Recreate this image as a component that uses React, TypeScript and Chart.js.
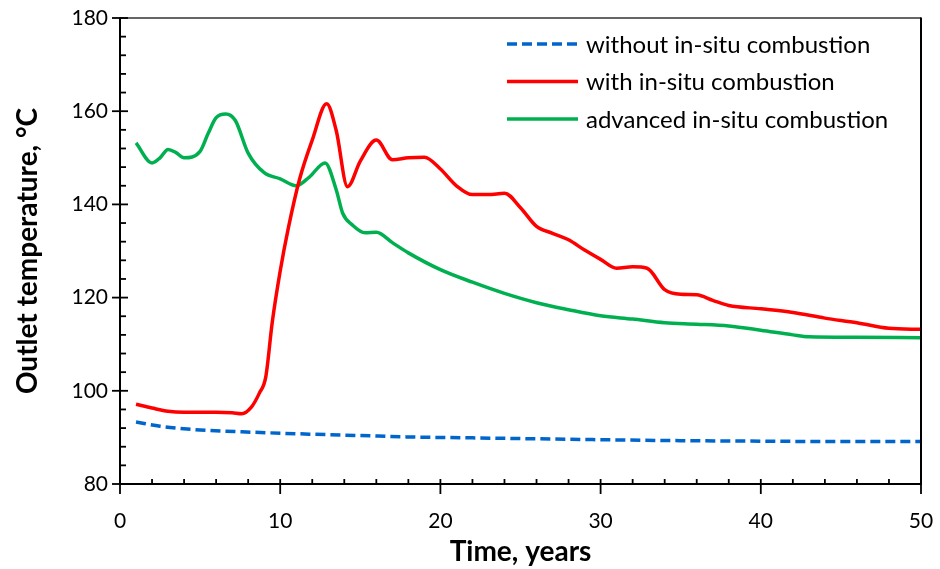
import React, { useEffect, useRef } from "react";
import { Chart, registerables } from "chart.js";

Chart.register(...registerables);

// ---- data ----
const withoutT = [1, 2.5, 3.5, 5, 7.6, 11.8, 15, 18, 22, 26, 30, 35, 40, 45, 50];
const withoutV = [93.3, 92.4, 92.0, 91.6, 91.2, 90.7, 90.4, 90.1, 89.9, 89.7, 89.5, 89.3, 89.2, 89.1, 89.1];

const withT = [1, 2, 3, 4, 5, 6, 7, 7.6, 8.2, 8.7, 9.1, 9.5, 10, 10.5, 11.2, 12, 12.9, 13.5, 14.2, 15, 16, 17, 18, 19, 20, 21, 22, 23, 24, 25, 26, 27, 28, 29, 30, 31, 32, 32.9, 34, 35, 36, 37, 38, 40, 42, 44, 46, 48, 50];
const withV = [97.1, 96.3, 95.6, 95.4, 95.4, 95.4, 95.3, 95.1, 96.5, 99.5, 103.0, 114.6, 125.7, 134.8, 145.3, 153.8, 161.6, 155.8, 143.8, 149.3, 153.8, 149.6, 150.0, 150.1, 147.6, 144.0, 142.1, 142.1, 142.4, 139.3, 135.3, 133.8, 132.4, 130.2, 128.2, 126.3, 126.6, 126.3, 121.7, 120.7, 120.6, 119.4, 118.3, 117.6, 116.8, 115.6, 114.6, 113.4, 113.2];

const advT = [1, 2, 2.5, 3, 3.5, 4, 5, 5.5, 6, 6.6, 7.2, 8, 9, 10, 11, 11.8, 12.8, 13.5, 13.9, 14.5, 15.3, 16, 17, 18, 20, 22, 24, 26, 28, 30, 32, 34, 36, 38, 40, 42, 43, 46, 50];
const advV = [153.2, 148.9, 150.0, 151.8, 151.1, 150.0, 151.4, 155.2, 158.6, 159.4, 158.0, 151.0, 146.8, 145.5, 144.0, 145.8, 148.9, 143.1, 138.1, 135.6, 133.9, 134.0, 131.8, 129.6, 126.0, 123.3, 120.9, 118.9, 117.4, 116.1, 115.4, 114.6, 114.3, 113.9, 113.0, 112.0, 111.6, 111.5, 111.4];

const seriesLabels = ["without in-situ combustion", "with in-situ combustion", "advanced in-situ combustion"];
const seriesColors = ["#0066CC", "#FF0000", "#00B050"];

const xTitle = "Time, years";
const yTitle = "Outlet temperature, \u00B0C";

const FONT = "Lato, 'Liberation Sans', sans-serif";

const framePlugin = {
  id: "frame",
  afterDatasetsDraw(chart: any) {
    const { ctx, chartArea } = chart;
    const { left, right, top, bottom } = chartArea;
    const xs = chart.scales.x;
    const ys = chart.scales.y;
    ctx.save();
    ctx.lineCap = "butt";
    ctx.lineWidth = 1.3;
    ctx.strokeStyle = "#333";
    ctx.beginPath();
    ctx.moveTo(left, top);
    ctx.lineTo(right, top);
    ctx.stroke();
    ctx.strokeStyle = "#000";
    ctx.lineWidth = 2;
    ctx.beginPath();
    ctx.moveTo(left, top - 0.6);
    ctx.lineTo(left, bottom);
    ctx.lineTo(right, bottom);
    ctx.moveTo(right, top - 0.6);
    ctx.lineTo(right, bottom + 1);
    ctx.stroke();
    ctx.lineWidth = 1.8;
    for (let v = 0; v <= 50; v += 2) {
      const px = xs.getPixelForValue(v);
      ctx.beginPath();
      if (v % 10 === 0) {
        ctx.moveTo(px, bottom + 10);
        ctx.lineTo(px, bottom - 5);
      } else {
        ctx.moveTo(px, bottom);
        ctx.lineTo(px, bottom - 5);
      }
      ctx.stroke();
    }
    for (let v = 80; v <= 180; v += 4) {
      const py = ys.getPixelForValue(v);
      ctx.beginPath();
      if (v % 20 === 0) {
        ctx.moveTo(left - 8, py);
        ctx.lineTo(left + 8, py);
      } else {
        ctx.moveTo(left, py);
        ctx.lineTo(left + 6, py);
      }
      ctx.stroke();
    }
    ctx.restore();
  },
  afterDraw(chart: any) {
    const { ctx } = chart;
    const ds = chart.data.datasets;
    const lx0 = 507;
    const lx1 = 578;
    const tx = 586;
    const ys = [44, 81.5, 119];
    ctx.save();
    ctx.font = `24px ${FONT}`;
    ctx.textBaseline = "middle";
    ctx.fillStyle = "#000";
    ds.forEach((d: any, i: number) => {
      ctx.strokeStyle = d.borderColor;
      ctx.lineWidth = 3.5;
      ctx.setLineDash(d.borderDash || []);
      ctx.beginPath();
      ctx.moveTo(lx0, ys[i]);
      ctx.lineTo(lx1, ys[i]);
      ctx.stroke();
      ctx.setLineDash([]);
      ctx.fillText(d.label, tx, ys[i] + 1);
    });
    ctx.restore();
  },
};

export default function App() {
  const ref = useRef<HTMLCanvasElement | null>(null);
  useEffect(() => {
    document.body.style.margin = "0";
    const canvas = ref.current!;
    const mk = (t: number[], v: number[]) => t.map((x, i) => ({ x, y: v[i] }));
    const chart = new Chart(canvas, {
      type: "line",
      data: {
        datasets: [
          { label: seriesLabels[0], data: mk(withoutT, withoutV), borderColor: seriesColors[0], borderWidth: 3.5, borderDash: [10, 5], pointRadius: 0, cubicInterpolationMode: "monotone", fill: false },
          { label: seriesLabels[1], data: mk(withT, withV), borderColor: seriesColors[1], borderWidth: 3.5, pointRadius: 0, cubicInterpolationMode: "monotone", fill: false },
          { label: seriesLabels[2], data: mk(advT, advV), borderColor: seriesColors[2], borderWidth: 3.5, pointRadius: 0, cubicInterpolationMode: "monotone", fill: false },
        ],
      } as any,
      options: {
        animation: false,
        responsive: false,
        devicePixelRatio: 1,
        layout: { padding: { top: 18, right: 19, left: 0, bottom: 0 } },
        plugins: { legend: { display: false }, tooltip: { enabled: false } },
        scales: {
          x: {
            type: "linear",
            min: 0,
            max: 50,
            grid: { display: false, drawTicks: false },
            border: { display: false },
            ticks: { stepSize: 10, color: "#000", font: { family: FONT, size: 21 }, padding: 25, maxRotation: 0 },
            title: { display: true, text: xTitle, color: "#000", font: { family: FONT, size: 28, weight: "bold" }, padding: { top: 0, bottom: 0 } },
            afterFit: (s: any) => { s.height = 85; s.paddingRight = 0; s.paddingLeft = 0; },
          },
          y: {
            type: "linear",
            min: 80,
            max: 180,
            grid: { display: false, drawTicks: false },
            border: { display: false },
            ticks: { stepSize: 20, color: "#000", font: { family: FONT, size: 21 }, padding: 12 },
            title: { display: true, text: yTitle, color: "#000", font: { family: FONT, size: 28, weight: "bold" }, padding: { top: 11, bottom: 0 } },
            afterFit: (s: any) => { s.width = 120; s.paddingTop = 0; s.paddingBottom = 0; },
          },
        },
      } as any,
      plugins: [framePlugin],
    });
    return () => chart.destroy();
  }, []);
  return (
    <div style={{ width: 940, height: 569, background: "#fff" }}>
      <canvas ref={ref} width={940} height={569} style={{ display: "block" }} />
    </div>
  );
}
